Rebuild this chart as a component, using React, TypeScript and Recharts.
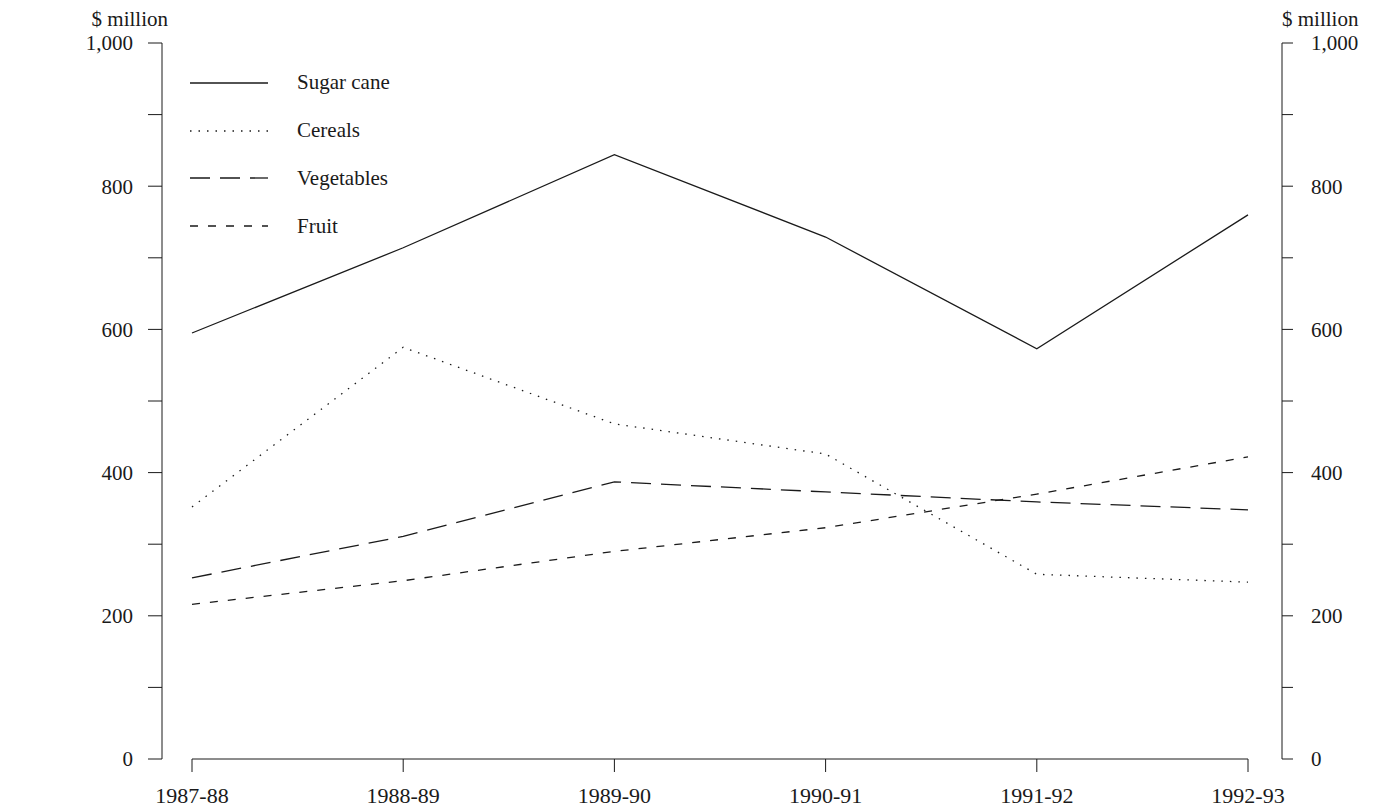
import { LineChart, Line, XAxis, YAxis, Legend, ReferenceLine } from "recharts";

const categories = ["1987-88", "1988-89", "1989-90", "1990-91", "1991-92", "1992-93"];
const sugarCane = [595, 714, 844, 729, 573, 760];
const cereals = [352, 575, 468, 426, 258, 247];
const vegetables = [253, 311, 387, 373, 359, 348];
const fruit = [216, 249, 290, 323, 370, 422];
const yTicks = [0, 100, 200, 300, 400, 500, 600, 700, 800, 900, 1000];

const series = [
  { key: "sugarCane", name: "Sugar cane", dash: undefined as string | undefined, axis: "left" },
  { key: "cereals", name: "Cereals", dash: "1.5 7", axis: "left" },
  { key: "vegetables", name: "Vegetables", dash: "20 10", axis: "left" },
  { key: "fruit", name: "Fruit", dash: "8 10", axis: "right" },
];

const data = categories.map((c, i) => ({
  year: c,
  sugarCane: sugarCane[i],
  cereals: cereals[i],
  vegetables: vegetables[i],
  fruit: fruit[i],
}));

const FONT = "'Liberation Serif', 'DejaVu Serif', serif";
const INK = "#1a1a1a";

// only the even hundreds carry a label
const fmt = (v: number) => (v % 200 !== 0 ? "" : v.toLocaleString("en-US"));

const LeftTitle = (props: any) => {
  const vb = props.viewBox || { x: 0, y: 0, width: 0 };
  return (
    <text x={vb.x + vb.width + 6} y={vb.y - 17} textAnchor="end" fontFamily={FONT} fontSize={21} fill={INK}>
      $ million
    </text>
  );
};

const RightTitle = (props: any) => {
  const vb = props.viewBox || { x: 0, y: 0 };
  return (
    <text x={vb.x} y={vb.y - 17} textAnchor="start" fontFamily={FONT} fontSize={21} fill={INK}>
      $ million
    </text>
  );
};

const renderLegend = () => (
  <div style={{ fontFamily: FONT, fontSize: 21, color: INK }}>
    {series.map((s) => (
      <div key={s.key} style={{ display: "flex", alignItems: "center", height: 47.8 }}>
        <svg width={80} height={10} style={{ marginRight: 27 }}>
          <line x1={0} y1={5} x2={78} y2={5} stroke={INK} strokeWidth={1.3} strokeDasharray={s.dash} />
        </svg>
        <span>{s.name}</span>
      </div>
    ))}
  </div>
);

export default function App() {
  return (
    <LineChart width={1361} height={800} data={data} margin={{ top: 35, right: 0, bottom: 0, left: 0 }}>
      <XAxis
        dataKey="year"
        padding={{ left: 30, right: 34 }}
        axisLine={false}
        tickLine={{ stroke: INK }}
        tickSize={13}
        tickMargin={15}
        height={49}
        tick={{ fontFamily: FONT, fontSize: 22, fill: INK }}
        interval={0}
      />
      <YAxis
        yAxisId="left"
        width={154}
        domain={[0, 1000]}
        ticks={yTicks}
        tickFormatter={fmt}
        axisLine={{ stroke: INK }}
        tickLine={{ stroke: INK }}
        tickSize={14}
        tickMargin={15}
        tick={{ fontFamily: FONT, fontSize: 21, fill: INK }}
        label={<LeftTitle />}
      />
      <YAxis
        yAxisId="right"
        orientation="right"
        width={87}
        domain={[0, 1000]}
        ticks={yTicks}
        tickFormatter={fmt}
        axisLine={{ stroke: INK }}
        tickLine={{ stroke: INK }}
        tickSize={11}
        tickMargin={18}
        tick={{ fontFamily: FONT, fontSize: 21, fill: INK, textAnchor: "start" }}
        label={<RightTitle />}
      />
      <ReferenceLine
        yAxisId="left"
        segment={[
          { x: categories[0], y: 0 },
          { x: categories[categories.length - 1], y: 0 },
        ]}
        stroke={INK}
        strokeWidth={1}
      />
      <Legend
        layout="vertical"
        align="center"
        verticalAlign="middle"
        content={renderLegend}
        wrapperStyle={{ position: "absolute", left: 182, top: 51, width: 260 }}
      />
      {series.map((s) => (
        <Line
          key={s.key}
          yAxisId={s.axis}
          type="linear"
          dataKey={s.key}
          name={s.name}
          stroke={INK}
          strokeWidth={1.3}
          strokeDasharray={s.dash}
          dot={false}
          activeDot={false}
          isAnimationActive={false}
        />
      ))}
    </LineChart>
  );
}
